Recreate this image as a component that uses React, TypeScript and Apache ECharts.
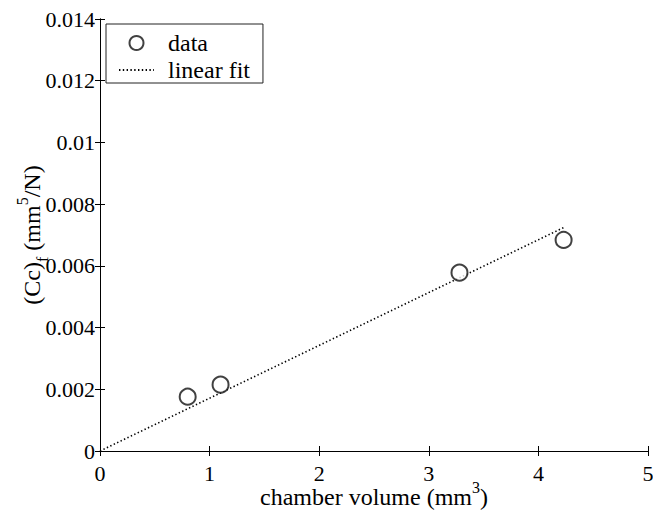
import React, { useEffect, useRef } from "react";
import * as echarts from "echarts";

const dataX = [0.8, 1.1, 3.28, 4.23];
const dataY = [0.00176, 0.00215, 0.00578, 0.00684];
const fitX = [0, 4.23];
const fitY = [0, 0.00724];
const xTicks = { min: 0, max: 5, interval: 1 };
const yTicks = { min: 0, max: 0.014, interval: 0.002 };

const FONT = "Liberation Serif";

export default function App() {
  const ref = useRef<HTMLDivElement>(null);
  useEffect(() => {
    const chart = echarts.init(ref.current!, null, { renderer: "svg" });
    const axisCommon = {
      axisLine: { show: true, lineStyle: { color: "#000", width: 1 } },
      axisTick: { show: true, inside: true, length: 5, lineStyle: { color: "#000" } },
      splitLine: { show: false },
    };
    const rich = {
      n: { fontSize: 24, fontFamily: FONT, color: "#000", lineHeight: 30, verticalAlign: "bottom" as const },
      sup: { fontSize: 16, fontFamily: FONT, color: "#000", lineHeight: 30, verticalAlign: "top" as const },
      sub: { fontSize: 16, fontFamily: FONT, color: "#000", lineHeight: 30, verticalAlign: "bottom" as const, padding: [0, 0, -6, 0] },
    };
    chart.setOption({
      animation: false,
      backgroundColor: "#fff",
      textStyle: { fontFamily: FONT },
      grid: { left: 100, right: 5, top: 19, bottom: 59, containLabel: false, outerBoundsMode: "none" },
      legend: {
        left: 106,
        top: 24,
        orient: "vertical",
        padding: [7, 13, 1, 12],
        itemWidth: 35,
        itemHeight: 14,
        itemGap: 3,
        borderColor: "#222",
        borderWidth: 1,
        borderRadius: 0,
        backgroundColor: "#fff",
        textStyle: { fontSize: 24, fontFamily: FONT, color: "#000", padding: [0, 0, 0, 9] },
        data: [
          { name: "data", icon: "emptyCircle" },
          { name: "linear fit", itemStyle: { opacity: 0 } },
        ],
      },
      xAxis: [
        {
          type: "value",
          ...xTicks,
          position: "bottom",
          ...axisCommon,
          axisLabel: { fontSize: 22, fontFamily: FONT, color: "#000", margin: 11 },
          name: "{n|chamber volume (mm}{sup|3}{n|)}",
          nameLocation: "middle",
          nameGap: 28,
          nameMoveOverlap: false,
          nameTextStyle: { rich, fontFamily: FONT },
        },
        {
          type: "value",
          ...xTicks,
          position: "top",
          ...axisCommon,
          axisLabel: { show: false },
        },
      ],
      yAxis: [
        {
          type: "value",
          ...yTicks,
          position: "left",
          ...axisCommon,
          axisLabel: {
            fontSize: 22,
            fontFamily: FONT,
            color: "#000",
            margin: 5,
            formatter: (v: number) => String(+v.toFixed(3)),
          },
          name: "{n|(Cc)}{sub|f}{n| (mm}{sup|5}{n|/N)}",
          nameLocation: "middle",
          nameGap: 56,
          nameMoveOverlap: false,
          nameRotate: 90,
          nameTextStyle: { rich, fontFamily: FONT },
        },
        {
          type: "value",
          ...yTicks,
          position: "right",
          ...axisCommon,
          axisLabel: { show: false },
        },
      ],
      series: [
        {
          name: "data",
          type: "scatter",
          symbol: "emptyCircle",
          symbolSize: 16,
          itemStyle: { color: "#111", borderWidth: 2.6 },
          data: dataX.map((x, i) => [x, dataY[i]]),
          z: 3,
        },
        {
          name: "linear fit",
          type: "line",
          showSymbol: false,
          symbol: "none",
          lineStyle: { color: "#000", width: 1.6, type: [1.4, 2.4] },
          itemStyle: { color: "#000" },
          data: fitX.map((x, i) => [x, fitY[i]]),
          z: 2,
        },
      ],
    });
    return () => chart.dispose();
  }, []);
  return (
    <div
      ref={ref}
      style={{ position: "fixed", left: 0, top: 0, width: 653, height: 510, background: "#fff" }}
    />
  );
}
